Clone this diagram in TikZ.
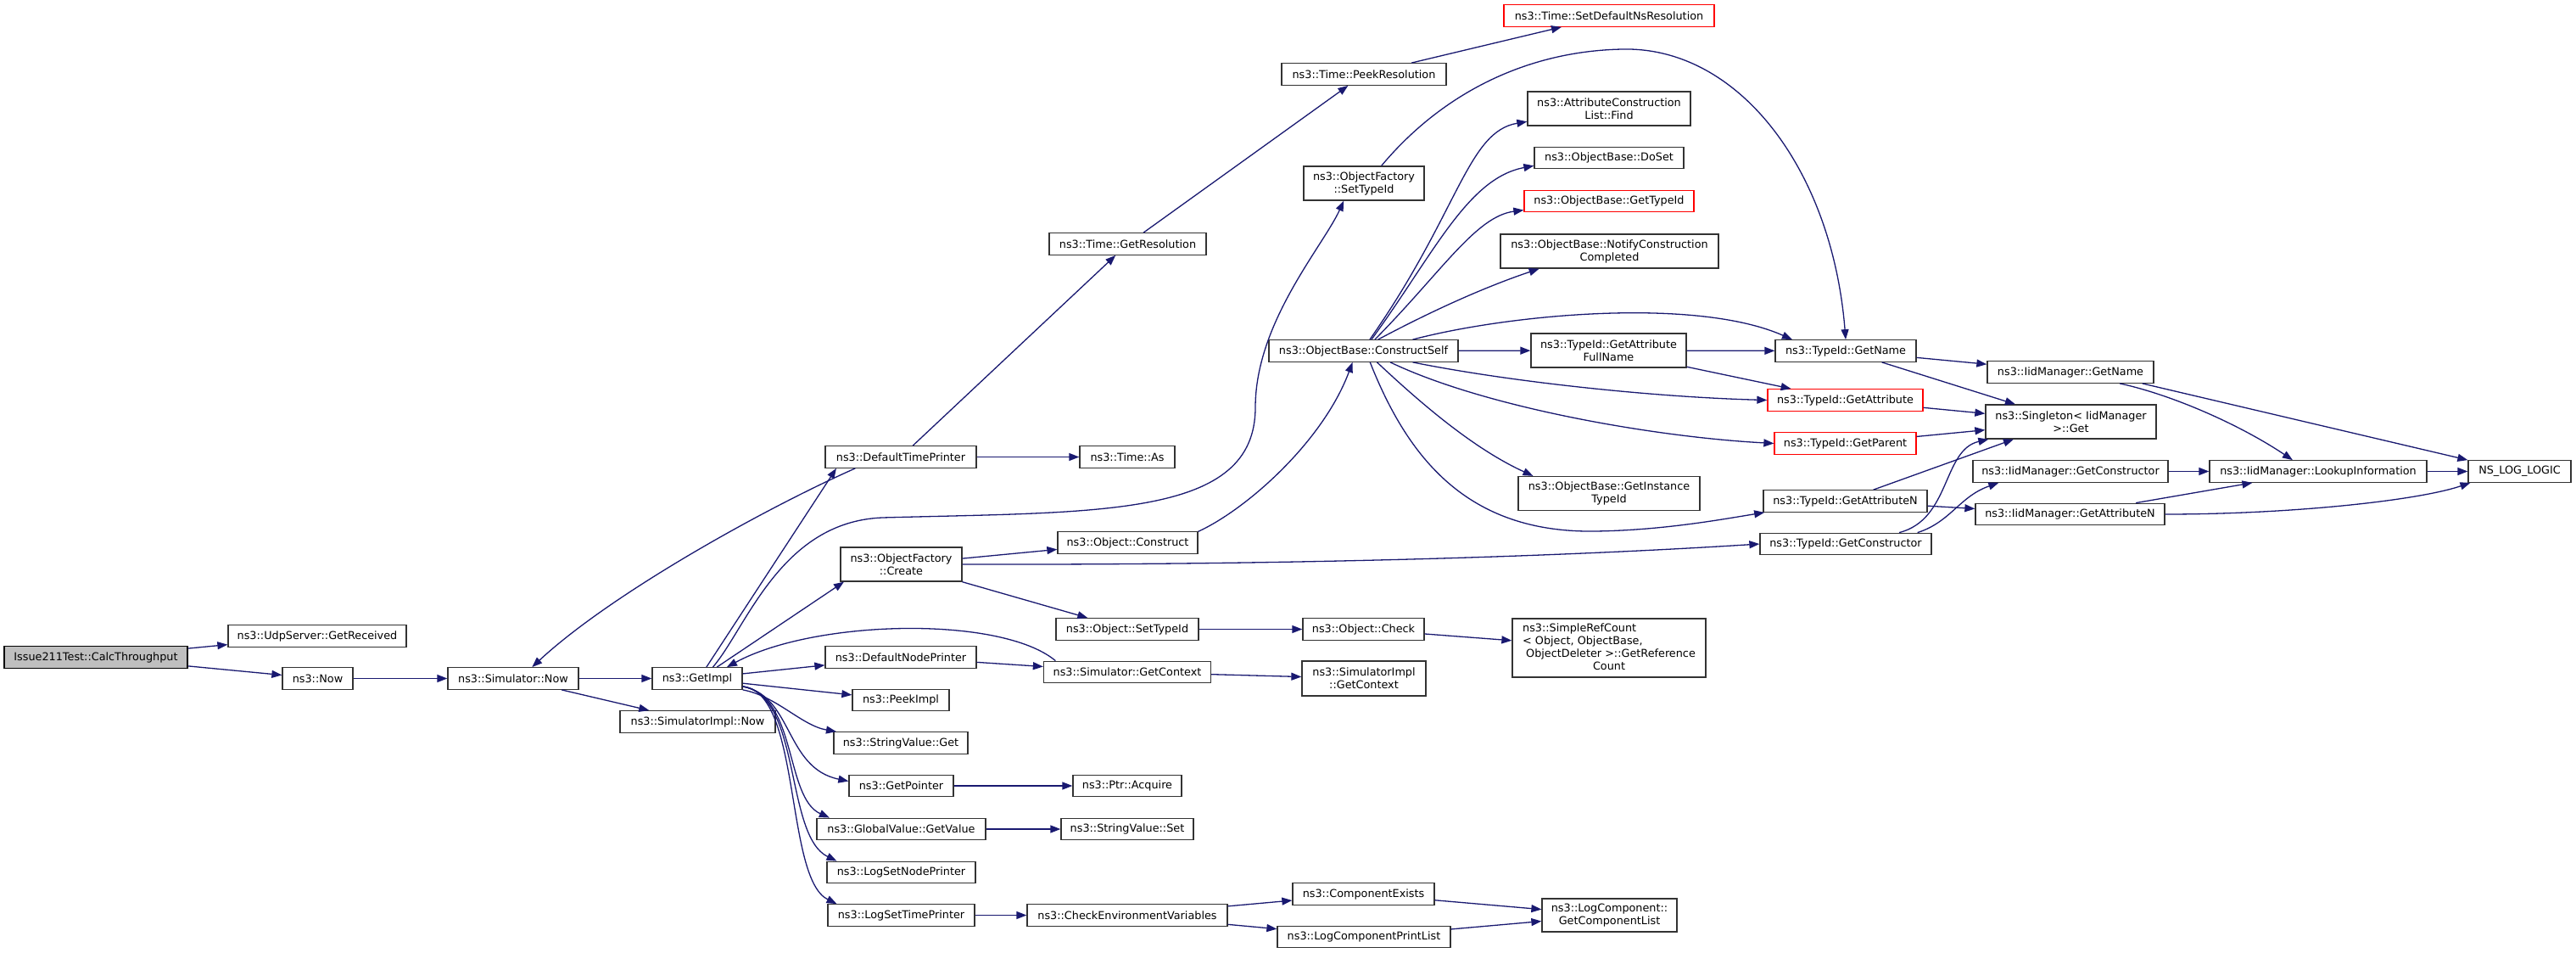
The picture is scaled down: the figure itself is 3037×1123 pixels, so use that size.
\documentclass[tikz,border=0pt]{standalone}
\usepackage{fontspec}
\setmainfont{DejaVu Sans}
\usepackage{tikz}
\usetikzlibrary{arrows.meta}

\definecolor{midblue}{RGB}{25,25,112}
\definecolor{rootgrey}{RGB}{191,191,191}

\tikzset{
  fn/.style={draw=black!80, line width=1.3pt, fill=white, inner sep=0pt,
    minimum height=25.5pt, align=center, font=\fontsize{12.8}{15}\selectfont},
  fnred/.style={fn, draw=red},
  fnroot/.style={fn, draw=black, fill=rootgrey},
  call/.style={draw=midblue, line width=1.3pt, -{Triangle[length=12pt,width=9pt]}},
}

\begin{document}
\begin{tikzpicture}[x=1pt,y=-1pt]
  \useasboundingbox (0,0) rectangle (3037,1123);

  %  Define nodes
  \node[fnroot, minimum width=216] (calcthroughput) at (113,774.5) {Issue211Test::CalcThroughput};

  \node[fn, minimum width=210] (getreceived) at (374,749.5) {ns3::UdpServer::GetReceived};
  \node[fn, minimum width=83] (now) at (374.5,799.5) {ns3::Now};

  \node[fn, minimum width=154] (simnow) at (605,799.5) {ns3::Simulator::Now};

  \node[fn, minimum width=106] (getimpl) at (822,799.5) {ns3::GetImpl};
  \node[fn, minimum width=183] (simimplnow) at (822.5,850.5) {ns3::SimulatorImpl::Now};

  \node[fn, minimum width=178] (timeprinter) at (1062,538.5) {ns3::DefaultTimePrinter};
  \node[fn, minimum width=143, minimum height=40] (create) at (1062.5,665) {ns3::ObjectFactory\\::Create};
  \node[fn, minimum width=178] (nodeprinter) at (1062,774.5) {ns3::DefaultNodePrinter};
  \node[fn, minimum width=114] (peekimpl) at (1062,825) {ns3::PeekImpl};
  \node[fn, minimum width=158] (svget) at (1062,875.5) {ns3::StringValue::Get};
  \node[fn, minimum width=123] (getpointer) at (1062.5,926) {ns3::GetPointer};
  \node[fn, minimum width=199] (getvalue) at (1062.5,977) {ns3::GlobalValue::GetValue};
  \node[fn, minimum width=175] (setnodeprinter) at (1062.5,1028) {ns3::LogSetNodePrinter};
  \node[fn, minimum width=173] (settimeprinter) at (1062.5,1078.5) {ns3::LogSetTimePrinter};

  \node[fn, minimum width=185] (getresolution) at (1329.5,287.5) {ns3::Time::GetResolution};
  \node[fn, minimum width=112] (timeas) at (1329,538.5) {ns3::Time::As};
  \node[fn, minimum width=165] (construct) at (1329.5,639.5) {ns3::Object::Construct};
  \node[fn, minimum width=168] (objsettypeid) at (1329,741.5) {ns3::Object::SetTypeId};
  \node[fn, minimum width=197] (simgetcontext) at (1329,792) {ns3::Simulator::GetContext};
  \node[fn, minimum width=128] (acquire) at (1329,926) {ns3::Ptr::Acquire};
  \node[fn, minimum width=156] (svset) at (1329,977) {ns3::StringValue::Set};
  \node[fn, minimum width=236] (checkenv) at (1329,1078.5) {ns3::CheckEnvironmentVariables};

  \node[fn, minimum width=194] (peekresolution) at (1608,87.5) {ns3::Time::PeekResolution};
  \node[fn, minimum width=142, minimum height=40] (factsettypeid) at (1608,216) {ns3::ObjectFactory\\::SetTypeId};
  \node[fn, minimum width=223] (constructself) at (1607.5,413.5) {ns3::ObjectBase::ConstructSelf};
  \node[fn, minimum width=143] (objcheck) at (1607.5,741.5) {ns3::Object::Check};
  \node[fn, minimum width=146, minimum height=41] (implgetcontext) at (1608,799.5) {ns3::SimulatorImpl\\::GetContext};
  \node[fn, minimum width=167] (componentexists) at (1607.5,1053.5) {ns3::ComponentExists};
  \node[fn, minimum width=204] (printlist) at (1608,1104) {ns3::LogComponentPrintList};

  \node[fnred, minimum width=248] (setdefaultres) at (1897,18.5) {ns3::Time::SetDefaultNsResolution};
  \node[fn, minimum width=192, minimum height=40] (attrfind) at (1897,128) {ns3::AttributeConstruction\\List::Find};
  \node[fn, minimum width=176] (doset) at (1897,186) {ns3::ObjectBase::DoSet};
  \node[fnred, minimum width=200] (basegettypeid) at (1897,237) {ns3::ObjectBase::GetTypeId};
  \node[fn, minimum width=257, minimum height=40] (notifycompleted) at (1897.5,296) {ns3::ObjectBase::NotifyConstruction\\Completed};
  \node[fn, minimum width=183, minimum height=40] (attrfullname) at (1896.5,413) {ns3::TypeId::GetAttribute\\FullName};
  \node[fn, minimum width=214, minimum height=40] (instancetypeid) at (1897,581.5) {ns3::ObjectBase::GetInstance\\TypeId};
  \node[fn, minimum width=228, minimum height=69] (refcount) at (1897,763.5) {\begin{tabular}{@{}l@{}}ns3::SimpleRefCount\\< Object, ObjectBase,\\\ ObjectDeleter >::GetReference\\\multicolumn{1}{@{}c@{}}{Count}\end{tabular}};
  \node[fn, minimum width=159, minimum height=39] (componentlist) at (1897.5,1078.5) {ns3::LogComponent::\\GetComponentList};

  \node[fn, minimum width=166] (getname) at (2176,413.5) {ns3::TypeId::GetName};
  \node[fnred, minimum width=183] (getattribute) at (2175.5,471.5) {ns3::TypeId::GetAttribute};
  \node[fnred, minimum width=167] (getparent) at (2175.5,522.5) {ns3::TypeId::GetParent};
  \node[fn, minimum width=193] (getattributen) at (2175.5,590.5) {ns3::TypeId::GetAttributeN};
  \node[fn, minimum width=202] (getconstructor) at (2176,641) {ns3::TypeId::GetConstructor};

  \node[fn, minimum width=196] (iidgetname) at (2441,438.5) {ns3::IidManager::GetName};
  \node[fn, minimum width=201, minimum height=40] (singletonget) at (2441.5,497) {ns3::Singleton< IidManager\\>::Get};
  \node[fn, minimum width=230] (iidgetconstructor) at (2441,555.5) {ns3::IidManager::GetConstructor};
  \node[fn, minimum width=223] (iidgetattributen) at (2440.5,606) {ns3::IidManager::GetAttributeN};

  \node[fn, minimum width=256] (lookupinfo) at (2733,555.5) {ns3::IidManager::LookupInformation};
  \node[fn, minimum width=121] (nslogic) at (2970.5,555.5) {NS\_LOG\_LOGIC};

  % Connect the nodes
  \draw[call] (calcthroughput) -- (getreceived);
  \draw[call] (calcthroughput) -- (now);
  \draw[call] (now) -- (simnow);
  \draw[call] (simnow) -- (getimpl);
  \draw[call] (simnow) -- (simimplnow);
  \draw[call] (timeprinter.-166) .. controls (900,600) and (720,700) .. (simnow.31);

  \draw[call] (getimpl.51) -- (timeprinter.-170);
  \draw[call] (getimpl.36) .. controls (880,740) and (920,615) .. (1040,610)
    .. controls (1300,603) and (1480,610) .. (1480,480)
    .. controls (1480,380) and (1560,290) .. (factsettypeid.-139);
  \draw[call] (getimpl.30) -- (create.-163);
  \draw[call] (getimpl) -- (nodeprinter);
  \draw[call] (getimpl) -- (peekimpl);
  \draw[call] (getimpl.south east) .. controls (915,820) and (945,855) .. (svget.170);
  \draw[call] (getimpl.-10) .. controls (935,820) and (925,905) .. (getpointer.175);
  \draw[call] (getimpl.-10) .. controls (940,820) and (925,940) .. (getvalue.171);
  \draw[call] (getimpl.-10) .. controls (945,820) and (925,985) .. (setnodeprinter.170);
  \draw[call] (getimpl.-10) .. controls (945,815) and (925,1035) .. (settimeprinter.170);
  \draw[call] (simgetcontext.171) .. controls (1180,725) and (960,730) .. (getimpl.21);

  \draw[call] (timeprinter) -- (getresolution);
  \draw[call] (timeprinter) -- (timeas);
  \draw[call] (getresolution) -- (peekresolution);
  \draw[call] (peekresolution) -- (setdefaultres);
  \draw[call] (factsettypeid.45) .. controls (1700,110) and (1800,60) .. (1913,58)
    .. controls (2050,55) and (2160,200) .. (getname.north);

  \draw[call] (create) -- (construct);
  \draw[call] (create.east) .. controls (1600,666) and (1900,652) .. (getconstructor.west);
  \draw[call] (create) -- (objsettypeid);
  \draw[call] (construct.9) .. controls (1470,600) and (1560,520) .. (constructself.-134);
  \draw[call] (objsettypeid) -- (objcheck);
  \draw[call] (objcheck) -- (refcount);
  \draw[call] (nodeprinter) -- (simgetcontext);
  \draw[call] (simgetcontext) -- (implgetcontext);
  \draw[call] (getpointer) -- (acquire);
  \draw[call] (getvalue) -- (svset);
  \draw[call] (settimeprinter) -- (checkenv);
  \draw[call] (checkenv) -- (componentexists);
  \draw[call] (checkenv) -- (printlist);
  \draw[call] (componentexists) -- (componentlist);
  \draw[call] (printlist) -- (componentlist);

  \draw[call] (constructself.61) .. controls (1720,250) and (1730,155) .. (attrfind.-171);
  \draw[call] (constructself.55) .. controls (1690,300) and (1730,210) .. (doset.-174);
  \draw[call] (constructself.45) .. controls (1700,320) and (1740,255) .. (basegettypeid.-174);
  \draw[call] (constructself.38) .. controls (1700,360) and (1760,335) .. (notifycompleted.-166);
  \draw[call] (constructself.13) .. controls (1780,370) and (2000,350) .. (getname.168);
  \draw[call] (constructself) -- (attrfullname);
  \draw[call] (constructself.-13) .. controls (1780,450) and (1950,468) .. (getattribute.west);
  \draw[call] (constructself.-23) .. controls (1750,480) and (1950,515) .. (getparent.west);
  \draw[call] (constructself.-40) .. controls (1680,480) and (1740,530) .. (instancetypeid.167);
  \draw[call] (constructself.-60) .. controls (1660,540) and (1730,628) .. (1880,626)
    .. controls (1960,625) and (2030,612) .. (getattributen.-172);

  \draw[call] (attrfullname) -- (getname);
  \draw[call] (attrfullname) -- (getattribute);
  \draw[call] (getname) -- (iidgetname);
  \draw[call] (getname) -- (singletonget);
  \draw[call] (getattribute) -- (singletonget);
  \draw[call] (getparent) -- (singletonget);
  \draw[call] (getattributen.22) -- (singletonget.-163);
  \draw[call] (getattributen) -- (iidgetattributen);
  \draw[call] (getconstructor.12) .. controls (2300,612) and (2290,530) .. (singletonget.-168);
  \draw[call] (getconstructor.9) .. controls (2300,615) and (2310,585) .. (iidgetconstructor.-171);

  \draw[call] (iidgetname.-13) .. controls (2560,465) and (2640,500) .. (lookupinfo.156);
  \draw[call] (iidgetname.-9) -- (nslogic.north west);
  \draw[call] (iidgetconstructor) -- (lookupinfo);
  \draw[call] (iidgetattributen) -- (lookupinfo);
  \draw[call] (iidgetattributen.east) .. controls (2700,606) and (2850,590) .. (nslogic.-167);
  \draw[call] (lookupinfo) -- (nslogic);

  % Plates

\end{tikzpicture}
\end{document}
